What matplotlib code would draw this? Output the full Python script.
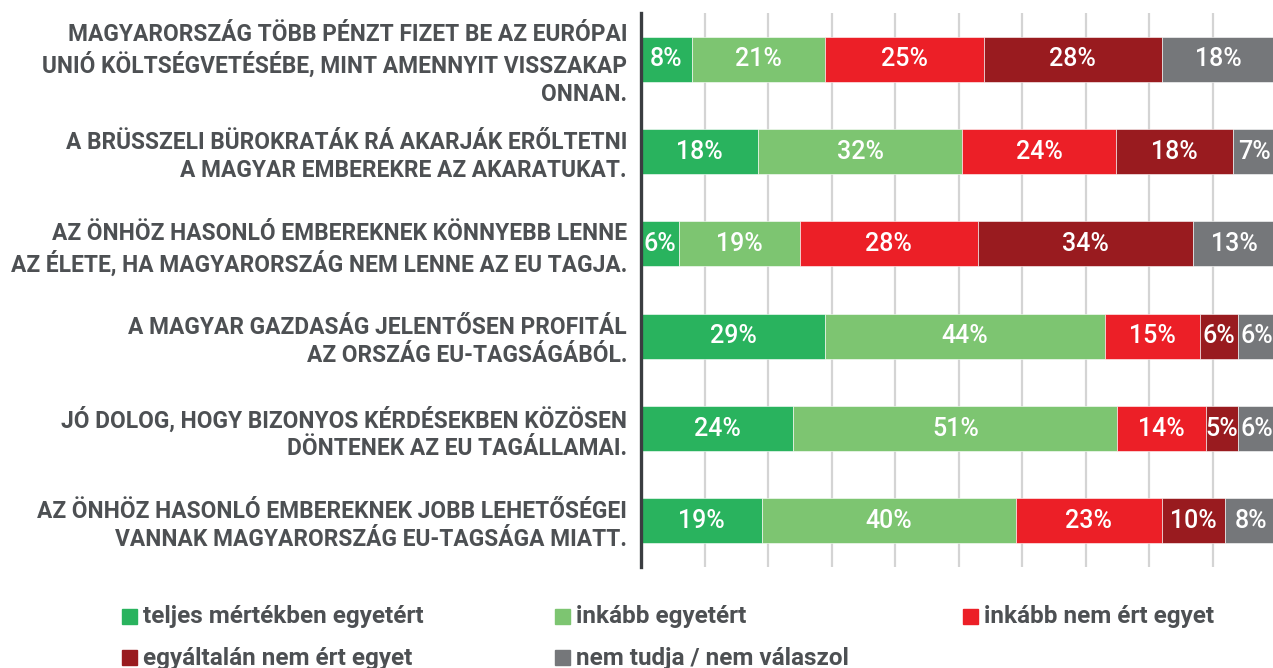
import matplotlib.pyplot as plt
from matplotlib.patches import Rectangle
import numpy as np

plt.rcParams['font.family'] = ['Roboto', 'DejaVu Sans']

statements = [
    "MAGYARORSZÁG TÖBB PÉNZT FIZET BE AZ EURÓPAI\nUNIÓ KÖLTSÉGVETÉSÉBE, MINT AMENNYIT VISSZAKAP\nONNAN.",
    "A BRÜSSZELI BÜROKRATÁK RÁ AKARJÁK ERŐLTETNI\nA MAGYAR EMBEREKRE AZ AKARATUKAT.",
    "AZ ÖNHÖZ HASONLÓ EMBEREKNEK KÖNNYEBB LENNE\nAZ ÉLETE, HA MAGYARORSZÁG NEM LENNE AZ EU TAGJA.",
    "A MAGYAR GAZDASÁG JELENTŐSEN PROFITÁL\nAZ ORSZÁG EU-TAGSÁGÁBÓL.",
    "JÓ DOLOG, HOGY BIZONYOS KÉRDÉSEKBEN KÖZÖSEN\nDÖNTENEK AZ EU TAGÁLLAMAI.",
    "AZ ÖNHÖZ HASONLÓ EMBEREKNEK JOBB LEHETŐSÉGEI\nVANNAK MAGYARORSZÁG EU-TAGSÁGA MIATT.",
]

answers = ["teljes mértékben egyetért", "inkább egyetért", "inkább nem ért egyet",
           "egyáltalán nem ért egyet", "nem tudja / nem válaszol"]
colors = ["#29b35e", "#7dc571", "#ec1f27", "#991b1f", "#75777a"]

# share of answers per statement (%)
teljesen = [8, 18.5, 6, 29, 24, 19]
inkabb_igen = [21, 32.1, 19, 44, 51, 40]
inkabb_nem = [25, 24.2, 28, 15, 14, 23]
egyaltalan_nem = [28, 18.4, 34, 6, 5, 10]
nem_tudja = [18, 6.8, 13, 6, 6, 8]

series = [teljesen, inkabb_igen, inkabb_nem, egyaltalan_nem, nem_tudja]

fig = plt.figure(figsize=(12.73, 6.68), dpi=100)
ax = fig.add_axes([641 / 1273, 101 / 668, 635 / 1273, 554 / 668])

y = np.arange(len(statements))
left = np.zeros(len(statements))
for vals, col, name in zip(series, colors, answers):
    vals = np.array(vals, dtype=float)
    bars = ax.barh(y, vals, left=left, height=0.49, color=col, edgecolor='white',
                   linewidth=0.4, label=name, zorder=2)
    ax.bar_label(bars, labels=[f"{round(v)}%" for v in vals], label_type='center',
                 color='white', fontsize=18, fontweight='medium')
    left += vals

ax.set_xlim(0, 100)
ax.set_ylim(len(statements) - 0.5, -0.5)
ax.set_xticks(np.arange(10, 100, 10))
ax.xaxis.grid(True, color='#d4d4d4', linewidth=1.6)
ax.set_axisbelow(True)
ax.tick_params(axis='x', length=0, labelbottom=False)
ax.tick_params(axis='y', length=0, pad=10)
ax.set_yticks(y)
ax.set_yticklabels(statements, fontsize=16.4, fontweight='bold', color='#4d5053')
for lbl in ax.get_yticklabels():
    lbl.set_linespacing(1.27)

for s in ['top', 'right', 'bottom']:
    ax.spines[s].set_visible(False)
ax.spines['left'].set_color('#3a3d41')
ax.spines['left'].set_linewidth(2.4)

# legend, laid out in a 3 + 2 grid
legend_pos = [(122, 617), (555, 617), (963, 617), (122, 658), (555, 658)]
for (px, py), col, name in zip(legend_pos, colors, answers):
    fig.add_artist(Rectangle((px / 1273, 1 - (py + 7) / 668), 15 / 1273, 15 / 668,
                             color=col, transform=fig.transFigure))
    fig.text((px + 21) / 1273, 1 - py / 668, name, fontsize=17.5, fontweight='bold',
             color='#4d5053', va='center', ha='left')

fig.savefig("out.png", dpi=100)
